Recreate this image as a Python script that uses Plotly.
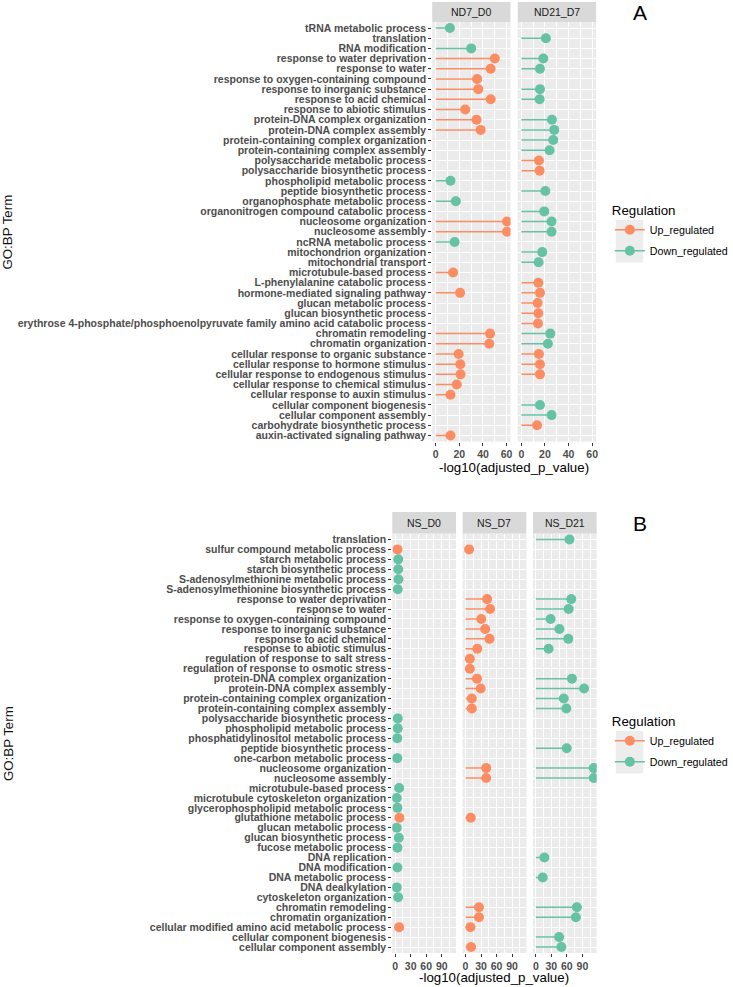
import plotly.graph_objects as go

# ---------------- data ----------------
a_terms = [
    "tRNA metabolic process", "translation", "RNA modification",
    "response to water deprivation", "response to water",
    "response to oxygen-containing compound", "response to inorganic substance",
    "response to acid chemical", "response to abiotic stimulus",
    "protein-DNA complex organization", "protein-DNA complex assembly",
    "protein-containing complex organization", "protein-containing complex assembly",
    "polysaccharide metabolic process", "polysaccharide biosynthetic process",
    "phospholipid metabolic process", "peptide biosynthetic process",
    "organophosphate metabolic process", "organonitrogen compound catabolic process",
    "nucleosome organization", "nucleosome assembly", "ncRNA metabolic process",
    "mitochondrion organization", "mitochondrial transport",
    "microtubule-based process", "L-phenylalanine catabolic process",
    "hormone-mediated signaling pathway", "glucan metabolic process",
    "glucan biosynthetic process",
    "erythrose 4-phosphate/phosphoenolpyruvate family amino acid catabolic process",
    "chromatin remodeling", "chromatin organization",
    "cellular response to organic substance", "cellular response to hormone stimulus",
    "cellular response to endogenous stimulus", "cellular response to chemical stimulus",
    "cellular response to auxin stimulus", "cellular component biogenesis",
    "cellular component assembly", "carbohydrate biosynthetic process",
    "auxin-activated signaling pathway",
]
a_panels = ["ND7_D0", "ND21_D7"]
a_nd7_d0_val = [12, None, 30, 50, 46.5, 35, 36, 46.5, 25, 34.5, 38, None, None,
                None, None, 12.5, None, 17, None, 60.3, 60.3, 16, None, None,
                14.7, None, 20.6, None, None, None, 46, 45.3, 19.4, 20.8, 21,
                17.8, 12.5, None, None, None, 12.5]
a_nd7_d0_reg = ["D", None, "D", "U", "U", "U", "U", "U", "U", "U", "U", None, None,
                None, None, "D", None, "D", None, "U", "U", "D", None, None,
                "U", None, "U", None, None, None, "U", "U", "U", "U", "U",
                "U", "U", None, None, None, "U"]
a_nd21_d7_val = [None, 20.8, None, 18.6, 15.8, None, 15.8, 15.5, None, 25.9, 27.9,
                 27, 23.9, 14.9, 15.5, None, 20.3, None, 19.4, 25.6, 25.6, None,
                 17.7, 14.6, None, 14.4, 15.8, 13.8, 14.4, 14.1, 24.5, 22.5, 14.9,
                 15.8, 15.8, None, None, 15.8, 25.6, 13.3, None]
a_nd21_d7_reg = [None, "D", None, "D", "D", None, "D", "D", None, "D", "D",
                 "D", "D", "U", "U", None, "D", None, "D", "D", "D", None,
                 "D", "D", None, "U", "U", "U", "U", "U", "D", "D", "U",
                 "U", "U", None, None, "D", "D", "U", None]

b_terms = [
    "translation", "sulfur compound metabolic process", "starch metabolic process",
    "starch biosynthetic process", "S-adenosylmethionine metabolic process",
    "S-adenosylmethionine biosynthetic process", "response to water deprivation",
    "response to water", "response to oxygen-containing compound",
    "response to inorganic substance", "response to acid chemical",
    "response to abiotic stimulus", "regulation of response to salt stress",
    "regulation of response to osmotic stress", "protein-DNA complex organization",
    "protein-DNA complex assembly", "protein-containing complex organization",
    "protein-containing complex assembly", "polysaccharide biosynthetic process",
    "phospholipid metabolic process", "phosphatidylinositol metabolic process",
    "peptide biosynthetic process", "one-carbon metabolic process",
    "nucleosome organization", "nucleosome assembly", "microtubule-based process",
    "microtubule cytoskeleton organization", "glycerophospholipid metabolic process",
    "glutathione metabolic process", "glucan metabolic process",
    "glucan biosynthetic process", "fucose metabolic process", "DNA replication",
    "DNA modification", "DNA metabolic process", "DNA dealkylation",
    "cytoskeleton organization", "chromatin remodeling", "chromatin organization",
    "cellular modified amino acid metabolic process", "cellular component biogenesis",
    "cellular component assembly",
]
b_panels = ["NS_D0", "NS_D7", "NS_D21"]
b_ns_d0_val = [None, 4.5, 6, 6, 6.3, 5, None, None, None, None, None, None, None,
               None, None, None, None, None, 5, 5, 4, None, 4, None, None, 7.6,
               3, 4.4, 8.2, 3, 7, 4.4, None, 4.4, None, 3, 5.7, None, None, 7.6,
               None, None]
b_ns_d0_reg = [None, "U", "D", "D", "D", "D", None, None, None, None, None, None, None,
               None, None, None, None, None, "D", "D", "D", None, "D", None, None, "D",
               "D", "D", "U", "D", "D", "D", None, "D", None, "D", "D", None, None, "U",
               None, None]
b_ns_d7_val = [None, 7, None, None, None, None, 41.8, 47.5, 30.4, 38, 46.4, 22.8,
               8.4, 8.4, 22.2, 29.3, 12.2, 12.2, None, None, None, None, None, 40,
               40, None, None, None, 10.2, None, None, None, None, None, None, None,
               None, 26, 26, 9.5, None, 10.8]
b_ns_d7_reg = [None if v is None else "U" for v in b_ns_d7_val]
b_ns_d21_val = [65, None, None, None, None, None, 68.5, 63.4, 28.5, 45.6, 62.8, 24.7,
                None, None, 69.8, 93.2, 54, 59, None, None, None, 59.7, None, 112,
                112, None, None, None, None, None, None, None, 16.5, None, 13.3, None,
                None, 79.3, 77.4, None, 45, 49.4]
b_ns_d21_reg = [None if v is None else "D" for v in b_ns_d21_val]

reg_names = {"U": "Up_regulated", "D": "Down_regulated"}
a_xticks = [0, 20, 40, 60]
b_xticks = [0, 30, 60, 90]

# ---------------- layout constants ----------------
W, H = 733, 987
UP, DOWN = "#FC8D62", "#66C2A5"
COL = {"U": UP, "D": DOWN}
FONT = "Liberation Sans, Arial, sans-serif"


def fx(p):
    return p / W


def fy(p):
    return 1 - p / H


A_dom = [(439.4, 519.0), (526.4, 606.0)]
A_top, A_bot, A_strip = 21.9, 441.6, 2.0
B_dom = [(398.8, 463.6), (470.3, 535.1), (541.8, 606.6)]
B_top, B_bot, B_strip = 533.5, 953.0, 512.0

fig = go.Figure()

panel_specs = [
    ("x", "y", a_terms, a_nd7_d0_val, a_nd7_d0_reg),
    ("x2", "y", a_terms, a_nd21_d7_val, a_nd21_d7_reg),
    ("x3", "y2", b_terms, b_ns_d0_val, b_ns_d0_reg),
    ("x4", "y2", b_terms, b_ns_d7_val, b_ns_d7_reg),
    ("x5", "y2", b_terms, b_ns_d21_val, b_ns_d21_reg),
]

for xa, ya, terms, vals, regs in panel_specs:
    for r in ["U", "D"]:
        sx, sy, px_, py_ = [], [], [], []
        for t, v, rr in zip(terms, vals, regs):
            if v is None or rr != r:
                continue
            sx += [0, v, None]
            sy += [t, t, None]
            px_.append(v)
            py_.append(t)
        if not px_:
            continue
        fig.add_trace(go.Scatter(x=sx, y=sy, mode="lines", xaxis=xa, yaxis=ya,
                                 line=dict(color=COL[r], width=1.5),
                                 showlegend=False, hoverinfo="skip"))
        fig.add_trace(go.Scatter(x=px_, y=py_, mode="markers", xaxis=xa, yaxis=ya,
                                 marker=dict(color=COL[r], size=10, line=dict(width=0)),
                                 showlegend=False, name=reg_names[r]))

# legend entries
for lg, xa, ya in [("legend", "x", "y"), ("legend2", "x3", "y2")]:
    for r in ["U", "D"]:
        fig.add_trace(go.Scatter(x=[None], y=[None], mode="lines+markers",
                                 xaxis=xa, yaxis=ya, name=reg_names[r],
                                 legend=lg, legendgroup=lg + r,
                                 line=dict(color=COL[r], width=1.5),
                                 marker=dict(color=COL[r], size=10)))

tickfont = dict(family=FONT, size=10.5, color="#4D4D4D", weight="bold")


def xaxis_cfg(dom, anchor, rng, ticks, minor_dt):
    return dict(domain=[fx(dom[0]), fx(dom[1])], anchor=anchor, range=rng,
                tickmode="array", tickvals=ticks, ticks="outside", ticklen=3,
                tickwidth=1, tickcolor="#333333", tickfont=tickfont, showgrid=True,
                gridcolor="white", gridwidth=1.2, zeroline=False, showline=False,
                minor=dict(dtick=minor_dt, tick0=minor_dt, showgrid=True,
                           gridcolor="white", gridwidth=0.6, ticks=""),
                fixedrange=True)


def yaxis_cfg(top, bot, anchor, terms):
    n = len(terms)
    return dict(domain=[fy(bot), fy(top)], anchor=anchor, type="category",
                categoryorder="array", categoryarray=terms,
                tickmode="array", tickvals=terms, ticktext=terms,
                range=[n - 0.4, -0.6], ticks="outside", ticklen=3, tickwidth=1,
                tickcolor="#333333", tickfont=tickfont, showgrid=True,
                gridcolor="white", gridwidth=1.2, zeroline=False, showline=False,
                fixedrange=True)


a_rng = [-3.0, 63.3]
b_rng = [-5.6, 117.6]

layout = dict(
    width=W, height=H, margin=dict(l=0, r=0, t=0, b=0),
    paper_bgcolor="white", plot_bgcolor="#EBEBEB",
    font=dict(family=FONT, color="#000000"),
    xaxis=xaxis_cfg(A_dom[0], "y", a_rng, a_xticks, 10),
    xaxis2=xaxis_cfg(A_dom[1], "y", a_rng, a_xticks, 10),
    xaxis3=xaxis_cfg(B_dom[0], "y2", b_rng, b_xticks, 15),
    xaxis4=xaxis_cfg(B_dom[1], "y2", b_rng, b_xticks, 15),
    xaxis5=xaxis_cfg(B_dom[2], "y2", b_rng, b_xticks, 15),
    yaxis=yaxis_cfg(A_top, A_bot, "x", a_terms),
    yaxis2=yaxis_cfg(B_top, B_bot, "x3", b_terms),
    legend=dict(x=fx(620), y=fy(198), xanchor="left", yanchor="top",
                title=dict(text="Regulation", font=dict(size=13.3, color="#000")),
                font=dict(size=10.7, color="#000"), bgcolor="rgba(0,0,0,0)",
                tracegroupgap=2, itemwidth=30),
    legend2=dict(x=fx(620), y=fy(709), xanchor="left", yanchor="top",
                 title=dict(text="Regulation", font=dict(size=13.3, color="#000")),
                 font=dict(size=10.7, color="#000"), bgcolor="rgba(0,0,0,0)",
                 tracegroupgap=2, itemwidth=30),
)
fig.update_layout(**layout)

shapes = []
annotations = []


def ann(text, x, y, size, color, **kw):
    d = dict(text=text, x=fx(x), y=fy(y), xref="paper", yref="paper",
             showarrow=False, xanchor="center", yanchor="middle",
             font=dict(size=size, color=color))
    d.update(kw)
    annotations.append(d)


# strips
for (x0, x1), name in zip(A_dom, a_panels):
    shapes.append(dict(type="rect", xref="paper", yref="paper", x0=fx(x0), x1=fx(x1),
                       y0=fy(A_top), y1=fy(A_strip), fillcolor="#D9D9D9",
                       line=dict(width=0), layer="below"))
    ann(name, (x0 + x1) / 2, (A_top + A_strip) / 2, 10.5, "#1A1A1A")
for (x0, x1), name in zip(B_dom, b_panels):
    shapes.append(dict(type="rect", xref="paper", yref="paper", x0=fx(x0), x1=fx(x1),
                       y0=fy(B_top), y1=fy(B_strip), fillcolor="#D9D9D9",
                       line=dict(width=0), layer="below"))
    ann(name, (x0 + x1) / 2, (B_top + B_strip) / 2, 10.5, "#1A1A1A")
# legend key backgrounds
for y0, y1 in [(220, 262.5), (731, 773.5)]:
    shapes.append(dict(type="rect", xref="paper", yref="paper", x0=fx(626), x1=fx(654),
                       y0=fy(y1), y1=fy(y0), fillcolor="#EDEDED",
                       line=dict(width=0), layer="below"))

# axis titles
ann("-log10(adjusted_p_value)", (A_dom[0][0] + A_dom[1][1]) / 2, 467, 13.3, "#000")
ann("-log10(adjusted_p_value)", (B_dom[0][0] + B_dom[2][1]) / 2, 977, 13.3, "#000")
for cy in [(A_top + A_bot) / 2, (B_top + B_bot) / 2]:
    ann("GO:BP Term", 8, cy, 13.3, "#111", textangle=-90)
# panel letters
ann("A", 651, 12.5, 21, "#000")
ann("B", 651, 523, 21, "#000")

fig.update_layout(shapes=shapes, annotations=annotations)
fig.write_html("out.html")
